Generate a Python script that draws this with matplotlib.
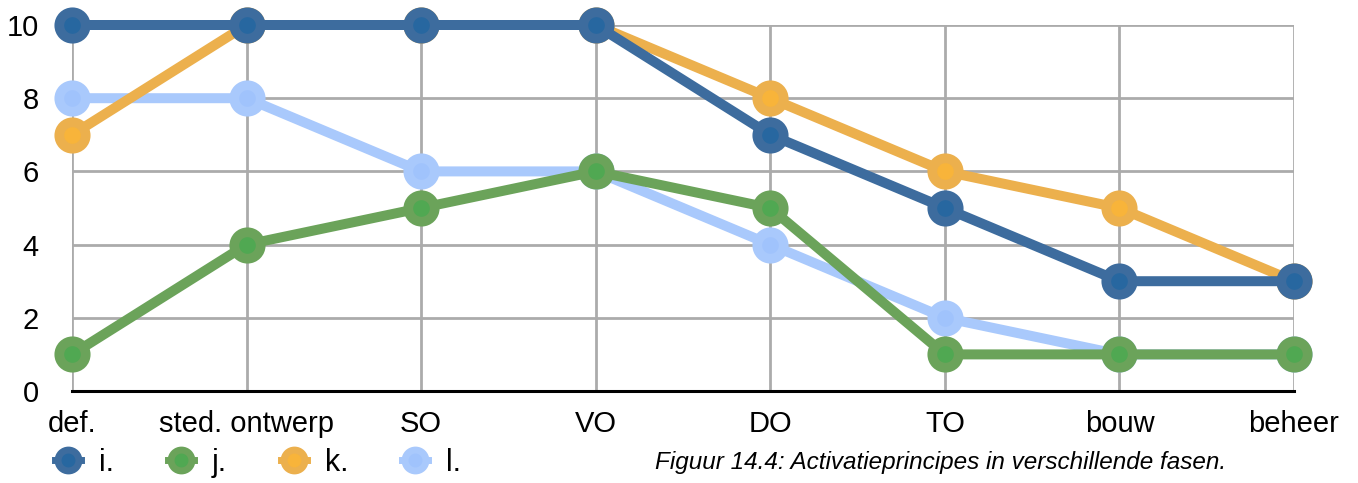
import matplotlib
matplotlib.use("Agg")
import matplotlib.pyplot as plt
from matplotlib.lines import Line2D

plt.rcParams['font.family'] = ['Liberation Sans', 'DejaVu Sans']

phases = ["def.", "sted. ontwerp", "SO", "VO", "DO", "TO", "bouw", "beheer"]
series_i = [10, 10, 10, 10, 7, 5, 3, 3]
series_j = [1, 4, 5, 6, 5, 1, 1, 1]
series_k = [7, 10, 10, 10, 8, 6, 5, 3]
series_l = [8, 8, 6, 6, 4, 2, 1, 1]
series_names = ["i.", "j.", "k.", "l."]
y_ticks = [0, 2, 4, 6, 8, 10]
caption = "Figuur 14.4: Activatieprincipes in verschillende fasen."

# (line/ring colour, inner fill colour)
styles = {
    "i.": ("#3d6c9e", "#2767a0"),
    "j.": ("#6ba35a", "#50a852"),
    "k.": ("#ecb04d", "#f8b43a"),
    "l.": ("#a9c9fc", "#a0c3fc"),
}

fig = plt.figure(figsize=(13.58, 4.83), dpi=100)
ax = fig.add_axes([72 / 1358, 1 - 391 / 483, (1294 - 72) / 1358, (391 - 25) / 483])

x = list(range(len(phases)))
draw_order = [("l.", series_l), ("j.", series_j), ("k.", series_k), ("i.", series_i)]
for name, vals in draw_order:
    line_c, fill_c = styles[name]
    ax.plot(x, vals, color=line_c, lw=7.2, marker="o", markersize=19,
            markeredgewidth=7, markeredgecolor=line_c, markerfacecolor=fill_c,
            clip_on=False, zorder=3, solid_capstyle="butt")

ax.set_xlim(0, len(phases) - 1)
ax.set_ylim(0, 10)
ax.set_xticks(x)
ax.set_xticklabels(phases)
ax.set_yticks(y_ticks)
ax.tick_params(axis="both", length=0, labelsize=21, colors="black")
ax.tick_params(axis="x", pad=14)
ax.tick_params(axis="y", pad=24)
ax.grid(True, color="#ababab", lw=2.0, zorder=0)
ax.set_axisbelow(True)
for side in ["top", "right", "left"]:
    ax.spines[side].set_visible(False)
ax.spines["bottom"].set_color("black")
ax.spines["bottom"].set_linewidth(2.2)
ax.spines["bottom"].set_zorder(2)

handles = []
for name in series_names:
    line_c, fill_c = styles[name]
    handles.append(Line2D([0], [0], color=line_c, lw=5, marker="o", markersize=15,
                          markeredgewidth=5, markeredgecolor=line_c,
                          markerfacecolor=fill_c))
fig.legend(handles, series_names, loc="center left", bbox_to_anchor=(55 / 1358, 1 - 463 / 483),
           ncol=4, frameon=False, fontsize=22, handlelength=0.85, handletextpad=0.6,
           columnspacing=1.75, borderaxespad=0, borderpad=0)

fig.text(655 / 1358, 1 - 463 / 483, caption, fontsize=17.5, style="italic",
         va="center", ha="left")

fig.savefig("out.png", dpi=100)
